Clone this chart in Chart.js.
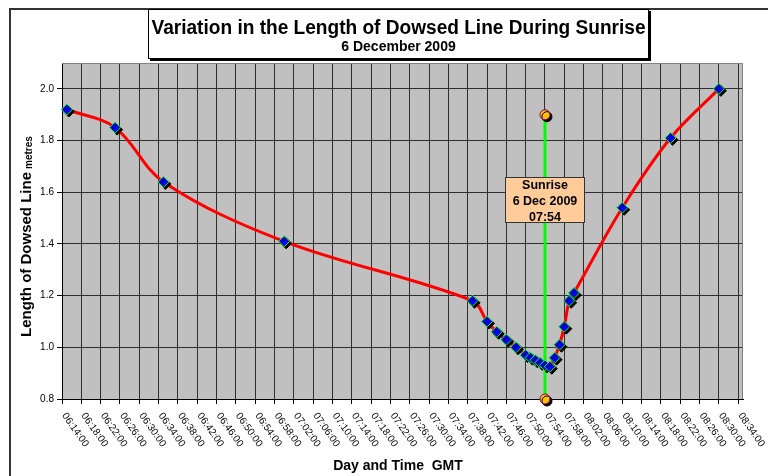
<!DOCTYPE html>
<html>
<head>
<meta charset="utf-8">
<script src="https://cdn.jsdelivr.net/npm/chart.js@4.4.1/dist/chart.umd.min.js"></script>
<style>
  html, body { margin: 0; padding: 0; background: #fff; }
  canvas { display: block; }
</style>
</head>
<body>
<canvas id="c" width="768" height="476"></canvas>
<script>
// ---- data ----
const timeLabels = ["06:15","06:25","06:35","07:00","07:39","07:42","07:44","07:46","07:48","07:50",
                    "07:51","07:52","07:53","07:54","07:55","07:56","07:57","07:58","07:59","08:00",
                    "08:10","08:20","08:30"];
const lengthValues = [1.92,1.85,1.64,1.41,1.18,1.10,1.06,1.03,1.00,0.97,
                      0.96,0.95,0.94,0.93,0.925,0.96,1.01,1.08,1.18,1.21,
                      1.54,1.81,2.00];
const sunriseTime = "07:54";
const sunriseValues = [0.8, 1.9];
const sunriseNoteLines = ["Sunrise", "6 Dec 2009", "07:54"];
const sunriseNoteValue = 1.57;
const xTickLabels = ["06:14:00","06:18:00","06:22:00","06:26:00","06:30:00","06:34:00","06:38:00",
                     "06:42:00","06:46:00","06:50:00","06:54:00","06:58:00","07:02:00","07:06:00",
                     "07:10:00","07:14:00","07:18:00","07:22:00","07:26:00","07:30:00","07:34:00",
                     "07:38:00","07:42:00","07:46:00","07:50:00","07:54:00","07:58:00","08:02:00",
                     "08:06:00","08:10:00","08:14:00","08:18:00","08:22:00","08:26:00","08:30:00",
                     "08:34:00"];
const xMinLabel = "06:14";
const xMaxLabel = "08:35";
const yTickValues = [0.8, 1.0, 1.2, 1.4, 1.6, 1.8, 2.0];
const yMin = 0.8, yMax = 2.1;
const chartTitle = "Variation in the Length of Dowsed Line During Sunrise";
const chartSubtitle = "6 December 2009";
const xTitle = "Day and Time  GMT";
const yTitle = "Length of Dowsed Line";
const yTitleUnit = "metres";

// ---- helpers ----
function toMin(s) { const p = s.split(":").map(Number); return p[0] * 60 + p[1] + (p[2] || 0) / 60; }
const xTickValues = xTickLabels.map(toMin);
const mainPoints = timeLabels.map((t, i) => ({ x: toMin(t), y: lengthValues[i] }));
const sunrisePoints = sunriseValues.map(v => ({ x: toMin(sunriseTime), y: v }));

const FONT = "'Liberation Sans', Arial, sans-serif";

const custom = {
  id: 'custom',
  beforeDraw(chart) {
    const { ctx, chartArea: a } = chart;
    ctx.save();
    ctx.fillStyle = '#ffffff';
    ctx.fillRect(0, 0, chart.width, chart.height);
    ctx.fillStyle = '#C0C0C0';
    ctx.fillRect(a.left, a.top, a.right - a.left, a.bottom - a.top);
    ctx.strokeStyle = '#333333';
    ctx.lineWidth = 2;
    ctx.strokeRect(10, 9, chart.width + 40, chart.height + 40);
    ctx.restore();
  },
  beforeDatasetsDraw(chart) {
    const { ctx, chartArea: a } = chart;
    ctx.save();
    ctx.strokeStyle = '#808080';
    ctx.lineWidth = 1;
    ctx.beginPath();
    ctx.moveTo(a.left, a.top + 0.5);
    ctx.lineTo(a.right - 0.5, a.top + 0.5);
    ctx.lineTo(a.right - 0.5, a.bottom);
    ctx.stroke();
    ctx.restore();
  },
  beforeDatasetDraw(chart, args) {
    const ds = chart.data.datasets[args.index];
    if (ds.shadow) {
      const ctx = chart.ctx;
      ctx.save();
      ctx.shadowColor = '#000000';
      ctx.shadowOffsetX = 2;
      ctx.shadowOffsetY = 2;
      ctx.shadowBlur = 0;
    }
  },
  afterDatasetDraw(chart, args) {
    const ds = chart.data.datasets[args.index];
    if (ds.shadow) chart.ctx.restore();
  },
  afterDatasetsDraw(chart) {
    const { ctx } = chart;
    const xs = chart.scales.x, ys = chart.scales.y;
    // sunrise note box
    const cx = xs.getPixelForValue(toMin(sunriseTime));
    const cy = ys.getPixelForValue(sunriseNoteValue);
    const w = 79, h = 45;
    ctx.save();
    ctx.fillStyle = '#FFCC99';
    ctx.fillRect(Math.round(cx - w / 2), Math.round(cy - h / 2), w, h);
    ctx.strokeStyle = '#333333';
    ctx.lineWidth = 1;
    ctx.strokeRect(Math.round(cx - w / 2) + 0.5, Math.round(cy - h / 2) + 0.5, w, h);
    ctx.fillStyle = '#000000';
    ctx.font = "bold 12.5px " + FONT;
    ctx.textAlign = 'center';
    ctx.textBaseline = 'middle';
    const offs = [-14, 1.6, 17.6];
    sunriseNoteLines.forEach((t, i) => ctx.fillText(t, cx, cy + offs[i]));
    ctx.restore();
  },
  afterDraw(chart) {
    const { ctx, chartArea: a } = chart;
    const xs = chart.scales.x;
    ctx.save();
    // x tick labels, rotated
    ctx.fillStyle = '#000000';
    ctx.font = "10px " + FONT;
    ctx.textAlign = 'left';
    ctx.textBaseline = 'middle';
    xs.ticks.forEach((t, i) => {
      const px = xs.getPixelForValue(t.value);
      ctx.save();
      ctx.translate(px + 2, a.bottom + 15);
      ctx.rotate(55 * Math.PI / 180);
      ctx.fillText(xTickLabels[i], 0, 0);
      ctx.restore();
    });
    // x title
    ctx.font = "bold 14px " + FONT;
    ctx.textAlign = 'center';
    ctx.textBaseline = 'alphabetic';
    ctx.fillText(xTitle, 398, 470);
    // y title
    ctx.save();
    ctx.translate(30.5, 337);
    ctx.rotate(-Math.PI / 2);
    ctx.textAlign = 'left';
    ctx.font = "bold 15px " + FONT;
    ctx.fillText(yTitle, 0, 0);
    const tw = ctx.measureText(yTitle).width;
    ctx.font = "bold 10px " + FONT;
    ctx.fillText(yTitleUnit, tw + 3, 1);
    ctx.restore();
    // title box
    const bx = 148, by = 9, bw = 501, bh = 50;
    ctx.fillStyle = '#000000';
    ctx.fillRect(bx + 2, by + 2, bw, bh);
    ctx.fillStyle = '#ffffff';
    ctx.fillRect(bx, by, bw, bh);
    ctx.strokeStyle = '#000000';
    ctx.lineWidth = 1;
    ctx.strokeRect(bx + 0.5, by + 0.5, bw - 1, bh - 1);
    ctx.fillStyle = '#000000';
    ctx.textAlign = 'center';
    ctx.font = "bold 20px " + FONT;
    const titleW = ctx.measureText(chartTitle).width;
    const f = Math.min(1, 494 / titleW);
    ctx.save();
    ctx.translate(bx + bw / 2, 34);
    ctx.scale(f, 1);
    ctx.fillText(chartTitle, 0, 0);
    ctx.restore();
    ctx.font = "bold 14px " + FONT;
    ctx.fillText(chartSubtitle, bx + bw / 2, 51);
    ctx.restore();
  }
};

new Chart(document.getElementById('c'), {
  type: 'scatter',
  data: {
    datasets: [
      {
        label: 'markers',
        data: mainPoints,
        showLine: false,
        pointStyle: 'rectRot',
        pointRadius: 5.5,
        pointHoverRadius: 5.5,
        backgroundColor: '#0000FF',
        borderColor: '#00FF00',
        borderWidth: 1,
        shadow: true,
        clip: false,
        order: 0
      },
      {
        label: 'sunrise points',
        data: sunrisePoints,
        showLine: false,
        pointStyle: 'circle',
        pointRadius: 5,
        pointHoverRadius: 5,
        backgroundColor: '#FFC000',
        borderColor: '#800080',
        borderWidth: 1,
        shadow: true,
        clip: false,
        order: 1
      },
      {
        label: 'line',
        data: mainPoints,
        showLine: true,
        pointRadius: 0,
        borderColor: '#FF0000',
        borderWidth: 3,
        tension: 0.35,
        fill: false,
        order: 2
      },
      {
        label: 'sunrise line',
        data: sunrisePoints,
        showLine: true,
        pointRadius: 0,
        borderColor: '#00FF00',
        borderWidth: 3,
        fill: false,
        clip: false,
        order: 3
      }
    ]
  },
  options: {
    responsive: false,
    animation: false,
    devicePixelRatio: 1,
    layout: { padding: { left: 0, top: 63, right: 25, bottom: 0 } },
    plugins: {
      legend: { display: false },
      tooltip: { enabled: false },
      title: { display: false }
    },
    scales: {
      x: {
        type: 'linear',
        min: toMin(xMinLabel),
        max: toMin(xMaxLabel),
        afterBuildTicks: s => { s.ticks = xTickValues.map(v => ({ value: v })); },
        afterFit: s => { s.height = 77; },
        ticks: { display: false },
        grid: { color: '#303030', lineWidth: 1, tickLength: 5, drawTicks: true, tickColor: '#000' },
        border: { display: true, color: '#000000', width: 1 }
      },
      y: {
        type: 'linear',
        min: yMin,
        max: yMax,
        afterBuildTicks: s => { s.ticks = yTickValues.map(v => ({ value: v })); },
        afterFit: s => { s.width = 62; },
        ticks: {
          color: '#000000',
          font: { family: FONT, size: 10 },
          padding: 3,
          callback: v => Number(v).toFixed(1)
        },
        grid: { color: '#303030', lineWidth: 1, tickLength: 5, drawTicks: true, tickColor: '#000' },
        border: { display: true, color: '#000000', width: 1 }
      }
    }
  },
  plugins: [custom]
});
</script>
</body>
</html>
